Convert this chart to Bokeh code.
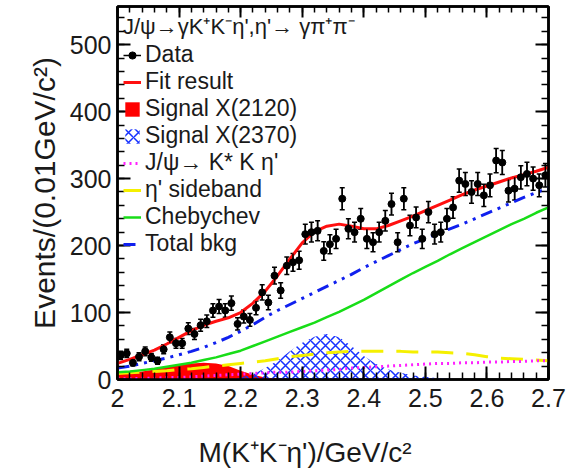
import numpy as np
from bokeh.plotting import figure
from bokeh.models import (Legend, LegendItem, LinearAxis, SingleIntervalTicker,
                          CustomJSTickFormatter, Title, Whisker, TeeHead,
                          ColumnDataSource)
from bokeh.embed import file_html
from bokeh.resources import INLINE

# ---------------- data ----------------
bin_centers = [round(2.005 + 0.01 * i, 3) for i in range(70)]
events = [36, 39, 25, 34, 42, 33, 28, 45, 63, 54,
          54, 76, 68, 81, 87, 103, 109, 103, 114, 83,
          94, 89, 107, 130, 115, 155, 133, 170, 175, 178,
          217, 220, 222, 192, 202, 210, 270, 225, 220, 240,
          210, 205, 220, 237, 262, 205, 270, 230, 242, 210,
          250, 217, 220, 240, 257, 297, 292, 280, 292, 275,
          290, 327, 324, 282, 285, 302, 307, 300, 290, 305]

curve_x = [round(2.0 + 0.02 * i, 2) for i in range(36)]
fit_result = [24, 30, 37, 44, 53, 63, 73, 81, 87, 92,
              100, 114, 132, 155, 180, 204, 221, 229, 232, 229,
              225, 225, 230, 237, 244, 252, 260, 268, 276, 283,
              289, 295, 301, 306, 311, 317]
total_bkg = [17, 20, 24, 28, 32, 37, 42, 48, 55, 63,
             72, 82, 93, 103, 112, 121, 130, 139, 148, 157,
             167, 176, 185, 194, 203, 210, 218, 225, 232, 240,
             248, 256, 264, 272, 279, 286]
chebychev = [11, 12, 14, 16, 19, 22, 25, 29, 33, 38,
             43, 50, 57, 64, 71, 78, 85, 93, 101, 110,
             119, 129, 139, 149, 159, 168, 177, 187, 196, 205,
             214, 223, 232, 240, 249, 257]
etap_sideband = [9, 10, 11, 12, 13, 15, 16, 18, 20, 22,
                 24, 26, 28, 31, 34, 36, 38, 40, 41, 42,
                 42, 42, 42, 42, 41, 41, 41, 40, 39, 37,
                 34, 32, 31, 30, 29, 28]
kstar_k_etap = [1, 1, 2, 2, 3, 3, 4, 5, 6, 7,
                8, 9, 10, 11, 11, 12, 13, 14, 15, 17,
                18, 19, 20, 21, 22, 23, 24, 24, 25, 25,
                26, 26, 27, 27, 28, 28]
signal_x2120 = [8, 10, 12, 15, 19, 22, 24, 25, 24, 20,
                13, 7, 3, 1, 0, 0, 0, 0, 0, 0,
                0, 0, 0, 0, 0, 0, 0, 0, 0, 0,
                0, 0, 0, 0, 0, 0]
signal_x2370 = [0, 0, 0, 0, 0, 0, 0, 0, 0, 0,
                3, 8, 17, 28, 42, 55, 64, 68, 63, 50,
                35, 23, 15, 10, 6, 4, 2, 1, 0, 0,
                0, 0, 0, 0, 0, 0]

x_ticks = [2.0, 2.1, 2.2, 2.3, 2.4, 2.5, 2.6, 2.7]
y_ticks = [0, 100, 200, 300, 400, 500]

FONT = "Liberation Sans"

# ---------------- figure ----------------
p = figure(width=566, height=470, x_range=(2.0, 2.7), y_range=(0, 557),
           output_backend="svg", toolbar_location=None,
           min_border_left=117, min_border_right=18,
           min_border_top=6, min_border_bottom=91)
p.grid.visible = False
p.outline_line_color = "black"
p.outline_line_width = 2.5
p.background_fill_color = "white"
p.border_fill_color = "white"

xt = SingleIntervalTicker(interval=0.1, num_minor_ticks=5)
yt = SingleIntervalTicker(interval=100, num_minor_ticks=5)


def style_axis(ax):
    ax.axis_line_width = 2.5
    ax.axis_line_color = "black"
    ax.major_tick_in = 13
    ax.major_tick_out = 0
    ax.minor_tick_in = 7
    ax.minor_tick_out = 0
    ax.major_tick_line_width = 2
    ax.minor_tick_line_width = 1.5
    ax.major_label_text_font = FONT
    ax.major_label_text_font_size = "25px"
    ax.major_label_text_color = "#1a1a1a"


xa = p.xaxis[0]
xa.ticker = xt
style_axis(xa)
xa.major_label_standoff = 9

ya = p.yaxis[0]
ya.ticker = yt
style_axis(ya)
ya.major_label_standoff = 6
ya.axis_label = "Events/(0.01GeV/c²)"
ya.axis_label_text_font = FONT
ya.axis_label_text_font_size = "30px"
ya.axis_label_text_font_style = "normal"
ya.axis_label_text_color = "#1a1a1a"
ya.axis_label_standoff = 6

blank = CustomJSTickFormatter(code="return ''")
ra = LinearAxis(ticker=SingleIntervalTicker(interval=100, num_minor_ticks=5), formatter=blank)
style_axis(ra)
ra.major_label_standoff = 0
p.add_layout(ra, "right")
ta = LinearAxis(ticker=SingleIntervalTicker(interval=0.1, num_minor_ticks=5), formatter=blank)
style_axis(ta)
ta.major_tick_in = 11
ta.minor_tick_in = 6
ta.major_label_standoff = 0
p.add_layout(ta, "above")

xtitle = Title(text="M(K⁺K⁻η')/GeV/c²", align="left", offset=81,
               text_font=FONT, text_font_size="28px", text_font_style="normal",
               text_color="#1a1a1a", standoff=0,
               padding=dict(top=25, right=0, bottom=0, left=0))
p.add_layout(xtitle, "below")

# ---------------- components ----------------
r_x2120 = p.varea(x=curve_x, y1=0, y2=signal_x2120, fill_color="#ff0000")
r_x2370 = p.varea(x=curve_x, y1=0, y2=signal_x2370, fill_alpha=0,
                  hatch_pattern="diagonal_cross", hatch_color="#1530ff",
                  hatch_scale=10, hatch_weight=1.5)
r_side = p.line(curve_x, etap_sideband, line_color="#f5f000", line_width=3,
                line_dash="22 13")
r_kstar = p.line(curve_x, kstar_k_etap, line_color="#ff20ff", line_width=3,
                 line_dash="2 4")
r_cheb = p.line(curve_x, chebychev, line_color="#18dd18", line_width=2.5)
r_bkg = p.line(curve_x, total_bkg, line_color="#1020ee", line_width=3,
               line_dash="12 6 3 6 3 6")
r_fit = p.line(curve_x, fit_result, line_color="#ff1010", line_width=3)

ev = np.array(events, dtype=float)
err = np.sqrt(ev)
src = ColumnDataSource(dict(x=bin_centers, y=events, lo=ev - err, hi=ev + err))
r_err = p.segment(x0="x", y0="lo", x1="x", y1="hi", source=src,
                  line_color="black", line_width=1.5)
p.add_layout(Whisker(base="x", lower="lo", upper="hi", source=src,
                     line_color="black", line_width=1.5,
                     upper_head=TeeHead(size=5, line_color="black", line_width=1.5),
                     lower_head=TeeHead(size=5, line_color="black", line_width=1.5)))
r_pts = p.scatter("x", "y", source=src, size=7, color="black")

# ---------------- legend ----------------
legend = Legend(items=[
    LegendItem(label="Data", renderers=[r_err, r_pts]),
    LegendItem(label="Fit result", renderers=[r_fit]),
    LegendItem(label="Signal X(2120)", renderers=[r_x2120]),
    LegendItem(label="Signal X(2370)", renderers=[r_x2370]),
    LegendItem(label="J/ψ→ K* K η'", renderers=[r_kstar]),
    LegendItem(label="η' sideband", renderers=[r_side]),
    LegendItem(label="Chebychev", renderers=[r_cheb]),
    LegendItem(label="Total bkg", renderers=[r_bkg]),
], location=(6, 122))
legend.title = "J/ψ→γK⁺K⁻η',η'→ γπ⁺π⁻"
legend.title_text_font = FONT
legend.title_text_font_size = "22px"
legend.title_text_font_style = "normal"
legend.title_text_color = "#1a1a1a"
legend.title_standoff = 1
legend.label_text_font = FONT
legend.label_text_font_size = "23px"
legend.label_text_color = "#1a1a1a"
legend.glyph_width = 18
legend.glyph_height = 18
legend.label_height = 18
legend.label_standoff = 4
legend.spacing = 0
legend.padding = 0
legend.margin = 0
legend.background_fill_alpha = 0
legend.border_line_alpha = 0
p.add_layout(legend)

open("out.html", "w").write(file_html(p, INLINE))
